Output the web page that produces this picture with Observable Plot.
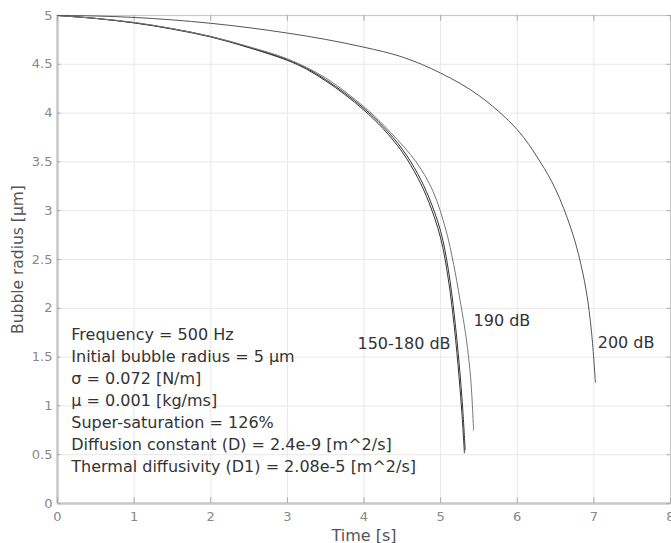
<!DOCTYPE html>
<html>
<head>
<meta charset="utf-8">
<script src="https://cdn.jsdelivr.net/npm/d3@7"></script>
<script src="https://cdn.jsdelivr.net/npm/@observablehq/plot@0.6"></script>
<style>
  html, body { margin: 0; padding: 0; background: #fff; }
  #chart svg { display: block; }
</style>
</head>
<body>
<div id="chart"></div>
<script>
// Time [s] and bubble radius [µm]
const t150 = [0, 0.5, 1, 1.5, 2, 2.5, 3, 3.25, 3.5, 3.75, 4.0, 4.25, 4.5, 4.7, 4.85, 5.0, 5.1, 5.18, 5.24, 5.28, 5.31];
const r150 = [5.0, 4.97, 4.925, 4.86, 4.78, 4.67, 4.54, 4.45, 4.33, 4.19, 4.03, 3.84, 3.6, 3.34, 3.08, 2.72, 2.3, 1.8, 1.3, 0.9, 0.52];
const t180 = [0, 0.5, 1, 1.5, 2, 2.5, 3, 3.25, 3.5, 3.75, 4.0, 4.25, 4.5, 4.7, 4.85, 5.0, 5.1, 5.18, 5.24, 5.29, 5.32];
const r180 = [5.0, 4.97, 4.925, 4.865, 4.785, 4.675, 4.548, 4.46, 4.342, 4.205, 4.048, 3.862, 3.63, 3.38, 3.13, 2.79, 2.4, 1.92, 1.45, 0.95, 0.55];
const t190 = [0, 0.5, 1, 1.5, 2, 2.5, 3, 3.5, 4.05, 4.35, 4.68, 4.9, 5.07, 5.17, 5.25, 5.31, 5.35, 5.39, 5.41, 5.43];
const r190 = [5.0, 4.97, 4.93, 4.865, 4.785, 4.68, 4.555, 4.36, 4.03, 3.8, 3.5, 3.2, 2.8, 2.45, 2.1, 1.82, 1.6, 1.3, 1.07, 0.75];
const t200 = [0, 0.5, 1, 1.5, 2, 2.5, 3, 3.5, 4, 4.5, 5, 5.5, 6, 6.3, 6.5, 6.7, 6.8, 6.9, 6.97, 7.02];
const r200 = [5.0, 4.995, 4.98, 4.955, 4.92, 4.875, 4.82, 4.755, 4.675, 4.575, 4.41, 4.18, 3.83, 3.5, 3.22, 2.82, 2.55, 2.18, 1.75, 1.24];

const xTicks = [0, 1, 2, 3, 4, 5, 6, 7, 8];
const yTicks = [0, 0.5, 1, 1.5, 2, 2.5, 3, 3.5, 4, 4.5, 5];

// curve labels
const leftLabels = ["150-180 dB"];
const leftLabelT = [5.13];
const leftLabelR = [1.64];
const rightLabels = ["190 dB", "200 dB"];
const rightLabelT = [5.43, 7.05];
const rightLabelR = [1.875, 1.65];

const notes = [
  "Frequency = 500 Hz",
  "Initial bubble radius = 5 \u03bcm",
  "\u03c3 = 0.072 [N/m]",
  "\u03bc = 0.001 [kg/ms]",
  "Super-saturation = 126%",
  "Diffusion constant (D) = 2.4e-9 [m^2/s]",
  "Thermal diffusivity (D1) = 2.08e-5 [m^2/s]"
];
const notesT = 0.18;
const notesR = 1.076;

const mk = (ts, rs, s) => ts.map((t, i) => ({t, r: rs[i], s}));
const series = [
  ...mk(t150, r150, "150"),
  ...mk(t180, r180, "180"),
  ...mk(t190, r190, "190"),
  ...mk(t200, r200, "200")
];
const lab = (ls, ts, rs) => ls.map((l, i) => ({l, t: ts[i], r: rs[i]}));

const font = "DejaVu Sans, Verdana, sans-serif";
const tickLen = 0.045;

const chart = Plot.plot({
  width: 671,
  height: 543,
  marginLeft: 57,
  marginRight: 1,
  marginTop: 15,
  marginBottom: 40,
  style: {fontFamily: font, background: "#fff"},
  x: {type: "linear", domain: [0, 8], ticks: xTicks},
  y: {type: "linear", domain: [0, 5], ticks: yTicks},
  marks: [
    Plot.gridX(xTicks, {stroke: "#e8e8e8", strokeOpacity: 1, strokeWidth: 1}),
    Plot.gridY(yTicks, {stroke: "#e8e8e8", strokeOpacity: 1, strokeWidth: 1}),
    Plot.frame({stroke: "#c8c8c8", strokeWidth: 1.2}),
    Plot.ruleX([0], {stroke: "#c8c8c8", strokeWidth: 2.5}),
    Plot.ruleY([0], {stroke: "#c8c8c8", strokeWidth: 2.5}),
    Plot.ruleX(xTicks, {x: d => d, y1: 0, y2: tickLen * 1.3, stroke: "#aaa"}),
    Plot.ruleX(xTicks, {x: d => d, y1: 5, y2: 5 - tickLen * 1.3, stroke: "#aaa"}),
    Plot.ruleY(yTicks, {y: d => d, x1: 0, x2: tickLen, stroke: "#aaa"}),
    Plot.ruleY(yTicks, {y: d => d, x1: 8, x2: 8 - tickLen, stroke: "#aaa"}),
    Plot.axisX(xTicks, {
      tickSize: 0, tickPadding: 8, fontSize: 13, fill: "#888",
      tickFormat: d => String(d),
      label: "Time [s]", labelAnchor: "center", labelArrow: "none", labelOffset: 37
    }),
    Plot.axisY(yTicks, {
      tickSize: 0, tickPadding: 5, fontSize: 13, fill: "#888",
      tickFormat: d => String(d),
      label: "Bubble radius [\u03bcm]", labelAnchor: "center", labelArrow: "none", labelOffset: 46
    }),
    Plot.line(series, {
      x: "t", y: "r", z: "s",
      stroke: d => d.s === "190" ? "#777" : (d.s === "200" ? "#555" : "#333"),
      strokeWidth: 1, curve: "catmull-rom"
    }),
    Plot.text(lab(leftLabels, leftLabelT, leftLabelR), {
      x: "t", y: "r", text: "l", textAnchor: "end",
      fontSize: 16, fill: "#333"
    }),
    Plot.text(lab(rightLabels, rightLabelT, rightLabelR), {
      x: "t", y: "r", text: "l", textAnchor: "start",
      fontSize: 16, fill: "#333"
    }),
    Plot.text([notes.join("\n")], {
      x: notesT, y: notesR, text: d => d,
      textAnchor: "start", lineAnchor: "middle", lineHeight: 1.375,
      fontSize: 16, fill: "#333"
    })
  ]
});

d3.select(chart).selectAll("[aria-label='x-axis label'] text")
  .attr("fill", "#555").style("font-size", "16px");
d3.select(chart).selectAll("[aria-label='y-axis label'] text")
  .attr("fill", "#555").style("font-size", "15.5px");

document.getElementById("chart").appendChild(chart);
</script>
</body>
</html>
